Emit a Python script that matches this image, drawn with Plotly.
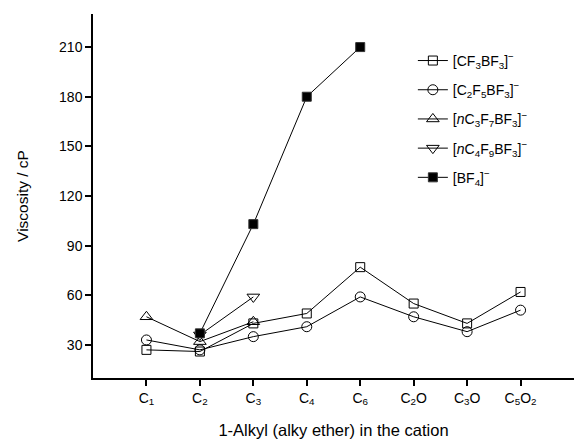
import plotly.graph_objects as go

categories = ["C<sub>1</sub>", "C<sub>2</sub>", "C<sub>3</sub>", "C<sub>4</sub>", "C<sub>6</sub>",
              "C<sub>2</sub>O", "C<sub>3</sub>O", "C<sub>5</sub>O<sub>2</sub>"]
cf3 = [27, 26, 43, 49, 77, 55, 43, 62]
c2f5 = [33, 27, 35, 41, 59, 47, 38, 51]
nc3f7 = [47, 32, 44, None, None, None, None, None]
nc4f9 = [None, 36, 59, None, None, None, None, None]
bf4 = [None, 37, 103, 180, 210, None, None, None]

names = ["[CF<sub>3</sub>BF<sub>3</sub>]<sup>−</sup>",
         "[C<sub>2</sub>F<sub>5</sub>BF<sub>3</sub>]<sup>−</sup>",
         "[<i>n</i>C<sub>3</sub>F<sub>7</sub>BF<sub>3</sub>]<sup>−</sup>",
         "[<i>n</i>C<sub>4</sub>F<sub>9</sub>BF<sub>3</sub>]<sup>−</sup>",
         "[BF<sub>4</sub>]<sup>−</sup>"]
series = [cf3, c2f5, nc3f7, nc4f9, bf4]
symbols = ["square-open", "circle-open", "triangle-up-open", "triangle-down-open", "square"]
sizes = [9, 10, 11, 11, 9]

FAM = "Liberation Sans, Arial, sans-serif"
x = list(range(len(categories)))
fig = go.Figure()
for i, (nm, ys, sym, sz) in enumerate(zip(names, series, symbols, sizes)):
    fig.add_trace(go.Scatter(
        x=x, y=ys, name=nm, mode="lines+markers", legendgroup=str(i),
        line=dict(color="black", width=1),
        marker=dict(symbol=sym, size=sz, color="black", line=dict(color="#333", width=1)),
        connectgaps=False,
    ))

fig.update_layout(
    width=574, height=439,
    margin=dict(l=93, r=0, t=14, b=61),
    paper_bgcolor="white", plot_bgcolor="white",
    font=dict(family=FAM, size=14, color="black"),
    showlegend=True,
    legend=dict(x=0.665, y=0.915, xanchor="left", yanchor="top",
                bgcolor="rgba(0,0,0,0)", font=dict(family=FAM, size=14),
                tracegroupgap=8, traceorder="grouped", itemwidth=30),
    xaxis=dict(range=[-1, 8], tickmode="array", tickvals=x, ticktext=categories,
               showline=True, linecolor="black", linewidth=1.5, ticks="outside",
               ticklen=6, tickwidth=1.5, tickcolor="black", showgrid=False, zeroline=False,
               title=dict(text="1-Alkyl (alky ether) in the cation", standoff=20,
                          font=dict(family=FAM, size=16.5, color="black"))),
    yaxis=dict(range=[10, 230], tickmode="array", tickvals=[30, 60, 90, 120, 150, 180, 210],
               showline=True, linecolor="black", linewidth=1.5, ticks="outside",
               ticklen=6, tickwidth=1.5, tickcolor="black", showgrid=False, zeroline=False,
               title=dict(text="Viscosity / cP", standoff=27,
                          font=dict(family=FAM, size=15.5, color="black"))),
)

fig.write_html("out.html")
